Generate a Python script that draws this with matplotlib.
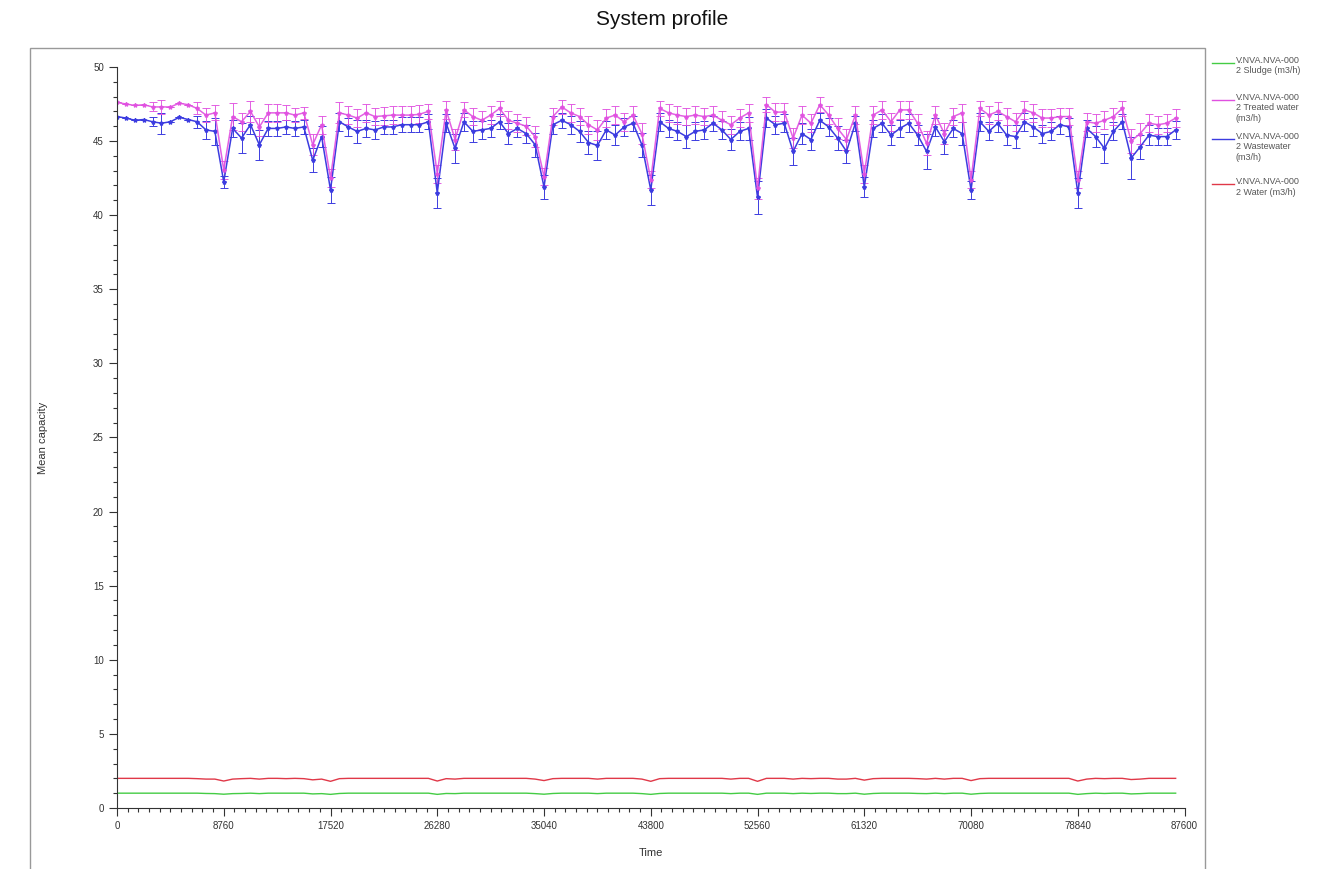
import matplotlib
matplotlib.use("Agg")
import matplotlib.pyplot as plt
from matplotlib.patches import Rectangle
from matplotlib.ticker import MultipleLocator

plt.rcParams['font.family'] = ['Liberation Sans', 'DejaVu Sans']

# ---- data (monthly samples, 730 h step) ----
time_step = 730
treated = [47.6, 47.5, 47.4, 47.45, 47.3, 47.3, 47.3, 47.55, 47.45, 47.2, 46.75, 46.9,
           43.05, 46.65, 46.3, 47.0, 45.95, 46.9, 46.9, 46.9, 46.75, 46.9, 44.75, 46.1,
           42.5, 46.9, 46.75, 46.55, 46.9, 46.65, 46.7, 46.75, 46.75, 46.75, 46.8, 47.0,
           42.8, 47.1, 45.1, 47.1, 46.65, 46.4, 46.75, 47.2, 46.4, 46.2, 46.0, 45.3,
           42.6, 46.65, 47.3, 46.9, 46.65, 46.1, 45.75, 46.55, 46.75, 46.3, 46.75, 45.5,
           42.4, 47.2, 46.9, 46.75, 46.65, 46.75, 46.65, 46.75, 46.4, 46.1, 46.55, 46.9,
           41.8, 47.45, 46.95, 46.95, 45.2, 46.75, 46.2, 47.45, 46.75, 45.85, 45.1, 46.75,
           42.8, 46.75, 47.1, 46.3, 47.1, 47.1, 46.2, 44.85, 46.75, 45.5, 46.65, 46.9,
           42.4, 47.2, 46.75, 47.0, 46.65, 46.3, 47.1, 46.9, 46.55, 46.55, 46.65, 46.65,
           42.4, 46.3, 46.2, 46.4, 46.65, 47.2, 45.0, 45.5, 46.2, 46.1, 46.2, 46.55]
treated_err = [0.0, 0.0, 0.0, 0.0, 0.3, 0.5, 0.0, 0.0, 0.0, 0.4, 0.5, 0.5,
               0.6, 0.9, 0.6, 0.7, 0.6, 0.6, 0.6, 0.5, 0.5, 0.4, 0.7, 0.6,
               0.6, 0.7, 0.6, 0.6, 0.6, 0.6, 0.6, 0.6, 0.6, 0.6, 0.6, 0.5,
               0.6, 0.6, 0.7, 0.5, 0.6, 0.6, 0.6, 0.5, 0.6, 0.6, 0.6, 0.7,
               0.6, 0.6, 0.5, 0.6, 0.6, 0.6, 0.7, 0.6, 0.6, 0.6, 0.6, 0.7,
               0.6, 0.5, 0.6, 0.6, 0.6, 0.6, 0.6, 0.6, 0.6, 0.6, 0.6, 0.6,
               0.7, 0.5, 0.6, 0.6, 0.7, 0.6, 0.6, 0.5, 0.6, 0.7, 0.7, 0.6,
               0.6, 0.6, 0.6, 0.6, 0.6, 0.6, 0.6, 0.8, 0.6, 0.7, 0.6, 0.6,
               0.6, 0.5, 0.6, 0.6, 0.6, 0.6, 0.6, 0.6, 0.6, 0.6, 0.6, 0.6,
               0.6, 0.6, 0.6, 0.6, 0.6, 0.5, 0.8, 0.7, 0.6, 0.6, 0.6, 0.6]
wastewater = [46.65, 46.55, 46.4, 46.45, 46.3, 46.2, 46.3, 46.6, 46.45, 46.3, 45.75, 45.65,
              42.25, 45.85, 45.2, 46.1, 44.75, 45.85, 45.85, 45.95, 45.85, 45.95, 43.7, 45.3,
              41.7, 46.3, 45.95, 45.65, 45.85, 45.75, 45.95, 45.95, 46.1, 46.1, 46.1, 46.3,
              41.5, 46.2, 44.5, 46.3, 45.65, 45.75, 45.85, 46.3, 45.5, 45.85, 45.5, 44.75,
              41.9, 46.1, 46.4, 46.1, 45.65, 44.9, 44.7, 45.75, 45.4, 45.95, 46.2, 44.75,
              41.7, 46.3, 45.85, 45.65, 45.3, 45.65, 45.75, 46.2, 45.75, 45.1, 45.65, 45.85,
              41.2, 46.55, 46.1, 46.2, 44.3, 45.5, 45.1, 46.4, 45.95, 45.2, 44.3, 46.2,
              41.9, 45.85, 46.2, 45.4, 45.85, 46.2, 45.4, 44.3, 45.95, 44.95, 45.85, 45.5,
              41.7, 46.3, 45.65, 46.2, 45.4, 45.3, 46.3, 45.95, 45.5, 45.65, 46.1, 45.95,
              41.5, 45.85, 45.3, 44.5, 45.65, 46.3, 43.85, 44.6, 45.4, 45.3, 45.3, 45.75]
wastewater_err = [0.0, 0.0, 0.0, 0.0, 0.3, 0.7, 0.0, 0.0, 0.0, 0.4, 0.6, 0.9,
                  0.4, 0.6, 1.0, 0.6, 1.0, 0.5, 0.5, 0.5, 0.5, 0.5, 0.8, 0.7,
                  0.9, 0.6, 0.6, 0.8, 0.6, 0.6, 0.5, 0.5, 0.5, 0.5, 0.5, 0.5,
                  1.0, 0.6, 1.0, 0.6, 0.7, 0.6, 0.6, 0.5, 0.7, 0.6, 0.6, 0.8,
                  0.8, 0.6, 0.5, 0.6, 0.7, 0.8, 1.0, 0.6, 0.7, 0.6, 0.5, 0.8,
                  1.0, 0.6, 0.6, 0.6, 0.8, 0.6, 0.6, 0.5, 0.6, 0.7, 0.6, 0.8,
                  1.1, 0.6, 0.6, 0.6, 0.9, 0.7, 0.7, 0.5, 0.6, 0.8, 0.8, 0.5,
                  0.7, 0.6, 0.6, 0.7, 0.6, 0.6, 0.7, 1.2, 0.6, 0.8, 0.6, 0.8,
                  0.6, 0.6, 0.6, 0.6, 0.7, 0.8, 0.6, 0.6, 0.6, 0.6, 0.6, 0.6,
                  1.0, 0.6, 0.7, 1.0, 0.6, 0.5, 1.4, 0.8, 0.7, 0.6, 0.6, 0.6]
water = [2.0, 2.0, 2.0, 2.0, 2.0, 2.0, 2.0, 2.0, 2.0, 1.98, 1.95, 1.95,
         1.82, 1.95, 1.98, 2.0, 1.95, 2.0, 2.0, 1.98, 2.0, 1.98, 1.9, 1.95,
         1.8, 1.98, 2.0, 2.0, 2.0, 2.0, 2.0, 2.0, 2.0, 2.0, 2.0, 2.0,
         1.82, 1.98, 1.95, 2.0, 2.0, 2.0, 2.0, 2.0, 2.0, 2.0, 2.0, 1.95,
         1.85, 1.98, 2.0, 2.0, 2.0, 2.0, 1.95, 2.0, 2.0, 2.0, 2.0, 1.95,
         1.8, 1.98, 2.0, 2.0, 2.0, 2.0, 2.0, 2.0, 2.0, 1.95, 2.0, 2.0,
         1.8, 2.0, 2.0, 2.0, 1.95, 2.0, 1.98, 2.0, 2.0, 1.95, 1.95, 2.0,
         1.88, 1.98, 2.0, 2.0, 2.0, 2.0, 1.98, 1.95, 2.0, 1.95, 2.0, 2.0,
         1.85, 1.98, 2.0, 2.0, 2.0, 2.0, 2.0, 2.0, 2.0, 2.0, 2.0, 2.0,
         1.82, 1.95, 2.0, 1.98, 2.0, 2.0, 1.92, 1.95, 2.0, 2.0, 2.0, 2.0]
sludge = [1.0, 1.0, 1.0, 1.0, 1.0, 1.0, 1.0, 1.0, 1.0, 1.0, 0.98, 0.97,
          0.93, 0.97, 0.98, 1.0, 0.97, 1.0, 1.0, 1.0, 1.0, 1.0, 0.95, 0.97,
          0.92, 0.98, 1.0, 1.0, 1.0, 1.0, 1.0, 1.0, 1.0, 1.0, 1.0, 1.0,
          0.92, 0.98, 0.97, 1.0, 1.0, 1.0, 1.0, 1.0, 1.0, 1.0, 1.0, 0.97,
          0.93, 0.98, 1.0, 1.0, 1.0, 1.0, 0.97, 1.0, 1.0, 1.0, 1.0, 0.97,
          0.92, 0.98, 1.0, 1.0, 1.0, 1.0, 1.0, 1.0, 1.0, 0.97, 1.0, 1.0,
          0.92, 1.0, 1.0, 1.0, 0.97, 1.0, 0.98, 1.0, 1.0, 0.97, 0.97, 1.0,
          0.93, 0.98, 1.0, 1.0, 1.0, 1.0, 0.98, 0.97, 1.0, 0.97, 1.0, 1.0,
          0.93, 0.98, 1.0, 1.0, 1.0, 1.0, 1.0, 1.0, 1.0, 1.0, 1.0, 1.0,
          0.92, 0.97, 1.0, 0.98, 1.0, 1.0, 0.95, 0.97, 1.0, 1.0, 1.0, 1.0]
times = [i * time_step for i in range(len(treated))]

x_ticks = [0, 8760, 17520, 26280, 35040, 43800, 52560, 61320, 70080, 78840, 87600]
x_tick_labels = ["0", "8760", "17520", "26280", "35040", "43800", "52560", "61320", "70080", "78840", "87600"]
y_ticks = [0, 5, 10, 15, 20, 25, 30, 35, 40, 45, 50]

labels = ["V.NVA.NVA-000\n2 Sludge (m3/h)",
          "V.NVA.NVA-000\n2 Treated water\n(m3/h)",
          "V.NVA.NVA-000\n2 Wastewater\n(m3/h)",
          "V.NVA.NVA-000\n2 Water (m3/h)"]

c_sludge = "#44cc44"
c_treated = "#e050e0"
c_waste = "#3c3ce0"
c_water = "#e03848"

fig = plt.figure(figsize=(13.25, 8.69), dpi=100)
fig.patch.set_facecolor("white")
ax = fig.add_axes([0.0883, 0.0702, 0.8057, 0.8528])

fig.patches.append(Rectangle((0.0226, -0.02), 0.887, 0.965, transform=fig.transFigure,
                             fill=False, edgecolor="#999999", linewidth=1.0))

ax.plot(times, sludge, color=c_sludge, lw=1.0)
ax.plot(times, water, color=c_water, lw=1.0)
ax.errorbar(times, wastewater, yerr=wastewater_err, color=c_waste, lw=1.1,
            marker="*", markersize=3, capsize=3, elinewidth=0.7, capthick=0.7)
ax.errorbar(times, treated, yerr=treated_err, color=c_treated, lw=1.1,
            marker="*", markersize=3, capsize=3, elinewidth=0.7, capthick=0.7, alpha=0.9)

ax.set_xlim(0, 87600)
ax.set_ylim(0, 50)
ax.set_xticks(x_ticks)
ax.set_xticklabels(x_tick_labels)
ax.set_yticks(y_ticks)
ax.xaxis.set_minor_locator(MultipleLocator(876))
ax.yaxis.set_minor_locator(MultipleLocator(1))
ax.tick_params(which="major", length=6, width=0.8, labelsize=7, colors="#333333", direction="out")
ax.tick_params(which="minor", length=3, width=0.8, colors="#333333", direction="out")
for s in ["top", "right"]:
    ax.spines[s].set_visible(False)
for s in ["left", "bottom"]:
    ax.spines[s].set_color("#333333")

ax.set_xlabel("Time", fontsize=8, color="#333333", labelpad=12)
fig.text(0.0325, 0.496, "Mean capacity", rotation=90, fontsize=8, color="#333333",
         ha="center", va="center")
fig.text(0.5, 0.978, "System profile", fontsize=15, ha="center", va="center", color="#111111")

# legend outside frame
leg_colors = [c_sludge, c_treated, c_waste, c_water]
leg_y = [0.928, 0.885, 0.840, 0.788]
for col, lab, yy in zip(leg_colors, labels, leg_y):
    fig.add_artist(plt.Line2D([0.9145, 0.931], [yy, yy], transform=fig.transFigure,
                              color=col, lw=1.0))
    fig.text(0.9325, yy + 0.008, lab, fontsize=6.5, color="#555555", va="top", ha="left",
             linespacing=1.2)

fig.savefig("out.png", dpi=100)
